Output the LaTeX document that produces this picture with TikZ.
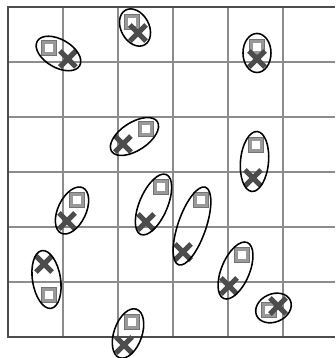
\documentclass[tikz,border=0pt]{standalone}
\usetikzlibrary{calc,shapes.misc,shapes.geometric}
\tikzset{
  gridline/.style={black!45, line width=1pt},
  frameline/.style={black!70, line width=1pt},
  sqmark/.style={draw=black!55, double=black!40, double distance=1.3pt, line width=0.35pt,
    fill=white, minimum size=5.8pt, inner sep=0pt},
  xmark/.style={cross out, draw=black!70, line width=2.7pt, minimum size=5.6pt, inner sep=0pt},
  ring/.style={ellipse, draw=black, line width=0.8pt, inner sep=0pt}
}
\begin{document}
\begin{tikzpicture}
  \useasboundingbox (-0.1455,-0.3818) rectangle (5.9455,6.1273);
  % grid and frame
  \draw[gridline] (0,0) grid (5.9455,6);
  \draw[frameline] (5.9455,6) -- (0,6) -- (0,0) -- (5.9455,0);
  % square / cross pairs
  \foreach \i/\a/\b/\c/\d in {1/0.745/5.255/1.09/5.055, 2/2.255/5.727/2.364/5.527,
      3/2.509/3.782/2.09/3.509, 4/4.527/5.273/4.527/5.055, 5/4.509/3.491/4.455/2.891,
      6/1.255/2.491/1.073/2.109, 7/2.782/2.727/2.509/2.091, 8/0.745/0.764/0.655/1.327,
      9/2.255/0.273/2.109/-0.145, 10/3.509/2.491/3.182/1.545, 11/4.255/1.491/4.018/0.927,
      12/4.745/0.491/4.909/0.564}{
    \node[sqmark] (s\i) at (\a,\b) {};
    \node[xmark] (x\i) at (\c,\d) {};
    \path let \p1=($(x\i)-(s\i)$) in
      node[ring, rotate={atan2(\y1,\x1)}, minimum width={veclen(\x1,\y1)+14},
        minimum height=14.5pt] (e\i) at ($(s\i)!0.5!(x\i)$) {};
  }
\end{tikzpicture}
\end{document}
